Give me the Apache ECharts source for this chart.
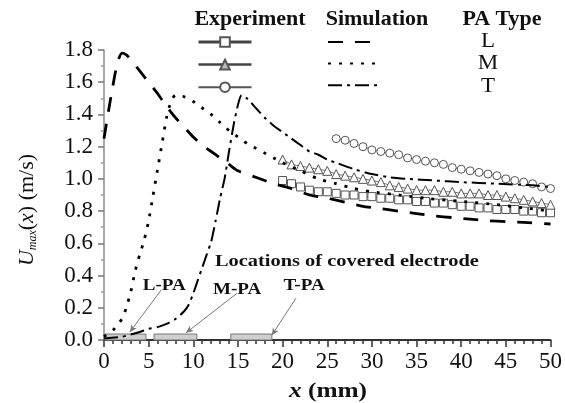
<!DOCTYPE html>
<html><head><meta charset="utf-8">
<script src="https://cdn.jsdelivr.net/npm/echarts@6/dist/echarts.min.js"></script>
<style>html,body{margin:0;padding:0;background:#fff}#c{width:565px;height:403px}</style>
</head><body><div id="c"></div>
<script>
// ---- data (x in mm, U_max in m/s) ----
const xTicks = [0,5,10,15,20,25,30,35,40,45,50];
const yTicks = [0.0,0.2,0.4,0.6,0.8,1.0,1.2,1.4,1.6,1.8];

const simL = [[0,1.25],[0.5,1.42],[1,1.58],[1.5,1.72],[2,1.78],[2.5,1.77],[3,1.74],[4,1.67],[5,1.6],[6,1.53],[7,1.45],[8,1.38],[9,1.32],[10,1.26],[11,1.21],[12,1.17],[13,1.13],[14,1.09],[15,1.05],[17,1.01],[19,0.97],[21,0.94],[23,0.9],[25,0.88],[27,0.855],[29,0.83],[31,0.815],[33,0.8],[35,0.785],[37,0.77],[39,0.76],[41,0.75],[43,0.74],[45,0.735],[47,0.73],[50,0.72]];
const simM = [[0,0.02],[1,0.06],[2,0.13],[2.5,0.2],[3,0.3],[3.5,0.43],[4,0.53],[4.5,0.62],[5,0.74],[5.5,0.9],[6,1.06],[6.5,1.22],[7,1.38],[7.5,1.48],[8,1.52],[9,1.51],[10,1.48],[11,1.44],[12,1.4],[13,1.35],[14,1.3],[15,1.26],[16,1.22],[17,1.19],[18,1.16],[19,1.13],[20,1.1],[22,1.05],[24,1.0],[26,0.97],[28,0.94],[30,0.92],[33,0.9],[36,0.88],[40,0.86],[44,0.84],[47,0.82],[50,0.8]];
const simT = [[0,0.01],[2,0.02],[4,0.05],[5,0.07],[6,0.08],[7,0.1],[8,0.13],[9,0.18],[9.5,0.22],[10,0.29],[10.5,0.37],[11,0.45],[11.5,0.53],[12,0.61],[12.5,0.74],[13,0.88],[13.5,1.0],[14,1.17],[14.5,1.33],[15,1.46],[15.4,1.52],[16,1.5],[17,1.44],[18,1.38],[19,1.33],[20,1.29],[21,1.25],[22,1.21],[23,1.17],[24,1.15],[25,1.12],[26,1.1],[28,1.06],[30,1.03],[32,1.01],[34,1.0],[37,0.99],[40,0.98],[44,0.97],[48,0.96],[50,0.95]];

const expLMx = [20,21,22,23,24,25,26,27,28,29,30,31,32,33,34,35,36,37,38,39,40,41,42,43,44,45,46,47,48,49,50];
const expL = [0.99,0.97,0.95,0.93,0.92,0.92,0.91,0.9,0.9,0.89,0.89,0.88,0.88,0.87,0.87,0.86,0.86,0.85,0.85,0.84,0.83,0.83,0.82,0.82,0.81,0.81,0.81,0.8,0.8,0.79,0.79];
const expM = [1.12,1.09,1.08,1.07,1.06,1.05,1.03,1.02,1.01,1.0,0.99,0.98,0.96,0.95,0.94,0.93,0.93,0.93,0.92,0.92,0.91,0.91,0.91,0.9,0.9,0.89,0.88,0.87,0.86,0.85,0.84];
const expTx = [26,27,28,29,30,31,32,33,34,35,36,37,38,39,40,41,42,43,44,45,46,47,48,49,50];
const expT = [1.25,1.24,1.22,1.2,1.18,1.17,1.16,1.15,1.13,1.12,1.11,1.1,1.09,1.07,1.06,1.05,1.04,1.03,1.02,1.0,0.99,0.98,0.97,0.95,0.94];

// covered electrode locations (mm) and annotation anchors (data coords)
const electrodeStart = [0, 5.6, 14.2];
const electrodeEnd = [4.7, 10.4, 18.8];
const electrodeTop = 0.037;
const paNames = ['L-PA','M-PA','T-PA'];
const paLabelPos = [[6.75,0.34],[14.9,0.315],[22.4,0.335]];
const leaderFrom = [[6.4,0.31],[14.9,0.29],[21.5,0.26]];
const leaderTo = [[2.9,0.05],[9.2,0.045],[18.8,0.03]];
const noteText = 'Locations of covered electrode';
const notePos = [27.2,0.484];

const pair = (xs, ys) => xs.map((x,i)=>[x,ys[i]]);
const SERIF = 'Liberation Serif';

const chart = echarts.init(document.getElementById('c'), null, {renderer:'canvas'});

const expBase = (name, data, symbol, size) => ({
  name, type:'line', data, symbol, symbolSize:size, showSymbol:true,
  lineStyle:{color:'#777', width:1},
  itemStyle:{color:'#fff', borderColor:'#555', borderWidth:1},
  z:3, animation:false
});
const simBase = (name, data, dash, width) => ({
  name, type:'line', data, symbol:'none', smooth:0.2,
  lineStyle:{color:'#000', width, type:dash},
  itemStyle:{color:'#000'},
  z:4, animation:false
});
const noSym = {color:'rgba(0,0,0,0)', borderWidth:0, opacity:0};

chart.setOption({
  animation:false,
  grid:{left:104, right:12, top:50, bottom:63},
  xAxis:{type:'value', min:0, max:50, interval:5,
    axisLine:{lineStyle:{color:'#333', width:2}},
    axisTick:{show:true, length:7, lineStyle:{color:'#333', width:1.5}},
    minorTick:{show:true, splitNumber:5, length:4, lineStyle:{color:'#333', width:1.5}},
    splitLine:{show:false},
    axisLabel:{fontFamily:SERIF, fontSize:23, color:'#111', margin:10,
      formatter:v=>String(v)}},
  yAxis:{type:'value', min:0, max:1.8, interval:0.2,
    axisLine:{show:true, lineStyle:{color:'#aaa', width:2}},
    axisTick:{show:true, length:6, lineStyle:{color:'#777', width:1.5}},
    minorTick:{show:true, splitNumber:2, length:3, lineStyle:{color:'#999', width:1.5}},
    splitLine:{show:false},
    axisLabel:{fontFamily:SERIF, fontSize:23, color:'#111', margin:11,
      formatter:v=>v.toFixed(1)}},
  legend:[
    {data:[{name:'L-Exp', lineStyle:{width:3,color:'#444'}},
           {name:'M-Exp', lineStyle:{width:2.5,color:'#444'}, itemStyle:{color:'#bbb'}},
           {name:'T-Exp', lineStyle:{width:2,color:'#555'}}],
     orient:'vertical', left:197, top:36, padding:0, itemWidth:53, itemHeight:12, itemGap:10.8,
     formatter:()=>'', textStyle:{fontSize:1}, selectedMode:false},
    {data:[{name:'L-Sim', itemStyle:noSym},{name:'M-Sim', itemStyle:noSym},{name:'T-Sim', itemStyle:noSym}],
     orient:'vertical', left:327, top:36, padding:0, itemWidth:50, itemHeight:12, itemGap:10.8,
     formatter:()=>'', textStyle:{fontSize:1}, selectedMode:false}
  ],
  series:[
    expBase('L-Exp', pair(expLMx, expL), 'rect', 8),
    expBase('M-Exp', pair(expLMx, expM), 'triangle', 9),
    expBase('T-Exp', pair(expTx, expT), 'circle', 8),
    simBase('L-Sim', simL, [15,12], 2.8),
    simBase('M-Sim', simM, [3,8], 2.8),
    simBase('T-Sim', simT, [14,5,3,5], 2),
    {name:'annot', type:'line', data:[], silent:true, z:2,
     markArea:{silent:true, itemStyle:{color:'#cfcfcf', borderColor:'#777', borderWidth:1},
       data: electrodeStart.map((s,i)=>[{coord:[s,0]},{coord:[electrodeEnd[i],electrodeTop]}])},
     markLine:{silent:true, symbol:['none','arrow'], symbolSize:[5,7], label:{show:false},
       lineStyle:{color:'#777', width:1, type:'solid'},
       data: leaderFrom.map((f,i)=>[{coord:f},{coord:leaderTo[i]}])}
    }
  ]
});

// text annotations positioned through the chart's scales
const px = p => chart.convertToPixel({gridIndex:0}, p);
const txt = (x, y, rich, text, size, weight, sx, extra) => Object.assign({
  type:'text', x, y, scaleX:sx||1, silent:true,
  style:{text, rich, fontFamily:SERIF, fontSize:size, fontWeight:weight||'normal', fill:'#111',
         textAlign:'center', textVerticalAlign:'middle'}
}, extra||{});

const graphics = [];
// legend table headers and PA type letters
graphics.push(txt(250, 20, null, 'Experiment', 20, 'bold', 1.1));
graphics.push(txt(377, 20, null, 'Simulation', 20, 'bold', 1.1));
graphics.push(txt(502, 20, null, 'PA Type', 20, 'bold', 1.1));
[['L',42],['M',64],['T',87]].forEach(([t,y])=>graphics.push(txt(488, y, null, t, 20, 'normal', 1.15)));
// annotations
const np = px(notePos);
graphics.push(txt(np[0], np[1], null, noteText, 17, 'bold', 1.2));
paNames.forEach((n,i)=>{const p = px(paLabelPos[i]); graphics.push(txt(p[0], p[1], null, n, 17, 'bold', 1.12));});
// axis titles
graphics.push(txt(328, 391, {i:{fontStyle:'italic', fontFamily:SERIF, fontSize:22, fontWeight:'bold'}}, '{i|x} (mm)', 22, 'bold', 1.15));
graphics.push(txt(27, 210, {
    u:{fontStyle:'italic', fontFamily:SERIF, fontSize:22},
    s:{fontStyle:'italic', fontFamily:SERIF, fontSize:12, padding:[12,0,0,0]},
    i:{fontStyle:'italic', fontFamily:SERIF, fontSize:22}
  }, '{u|U}{s|max}({i|x}) (m/s)', 22, 'normal', 1, {rotation:Math.PI/2}));
chart.setOption({graphic:graphics});
</script></body></html>
